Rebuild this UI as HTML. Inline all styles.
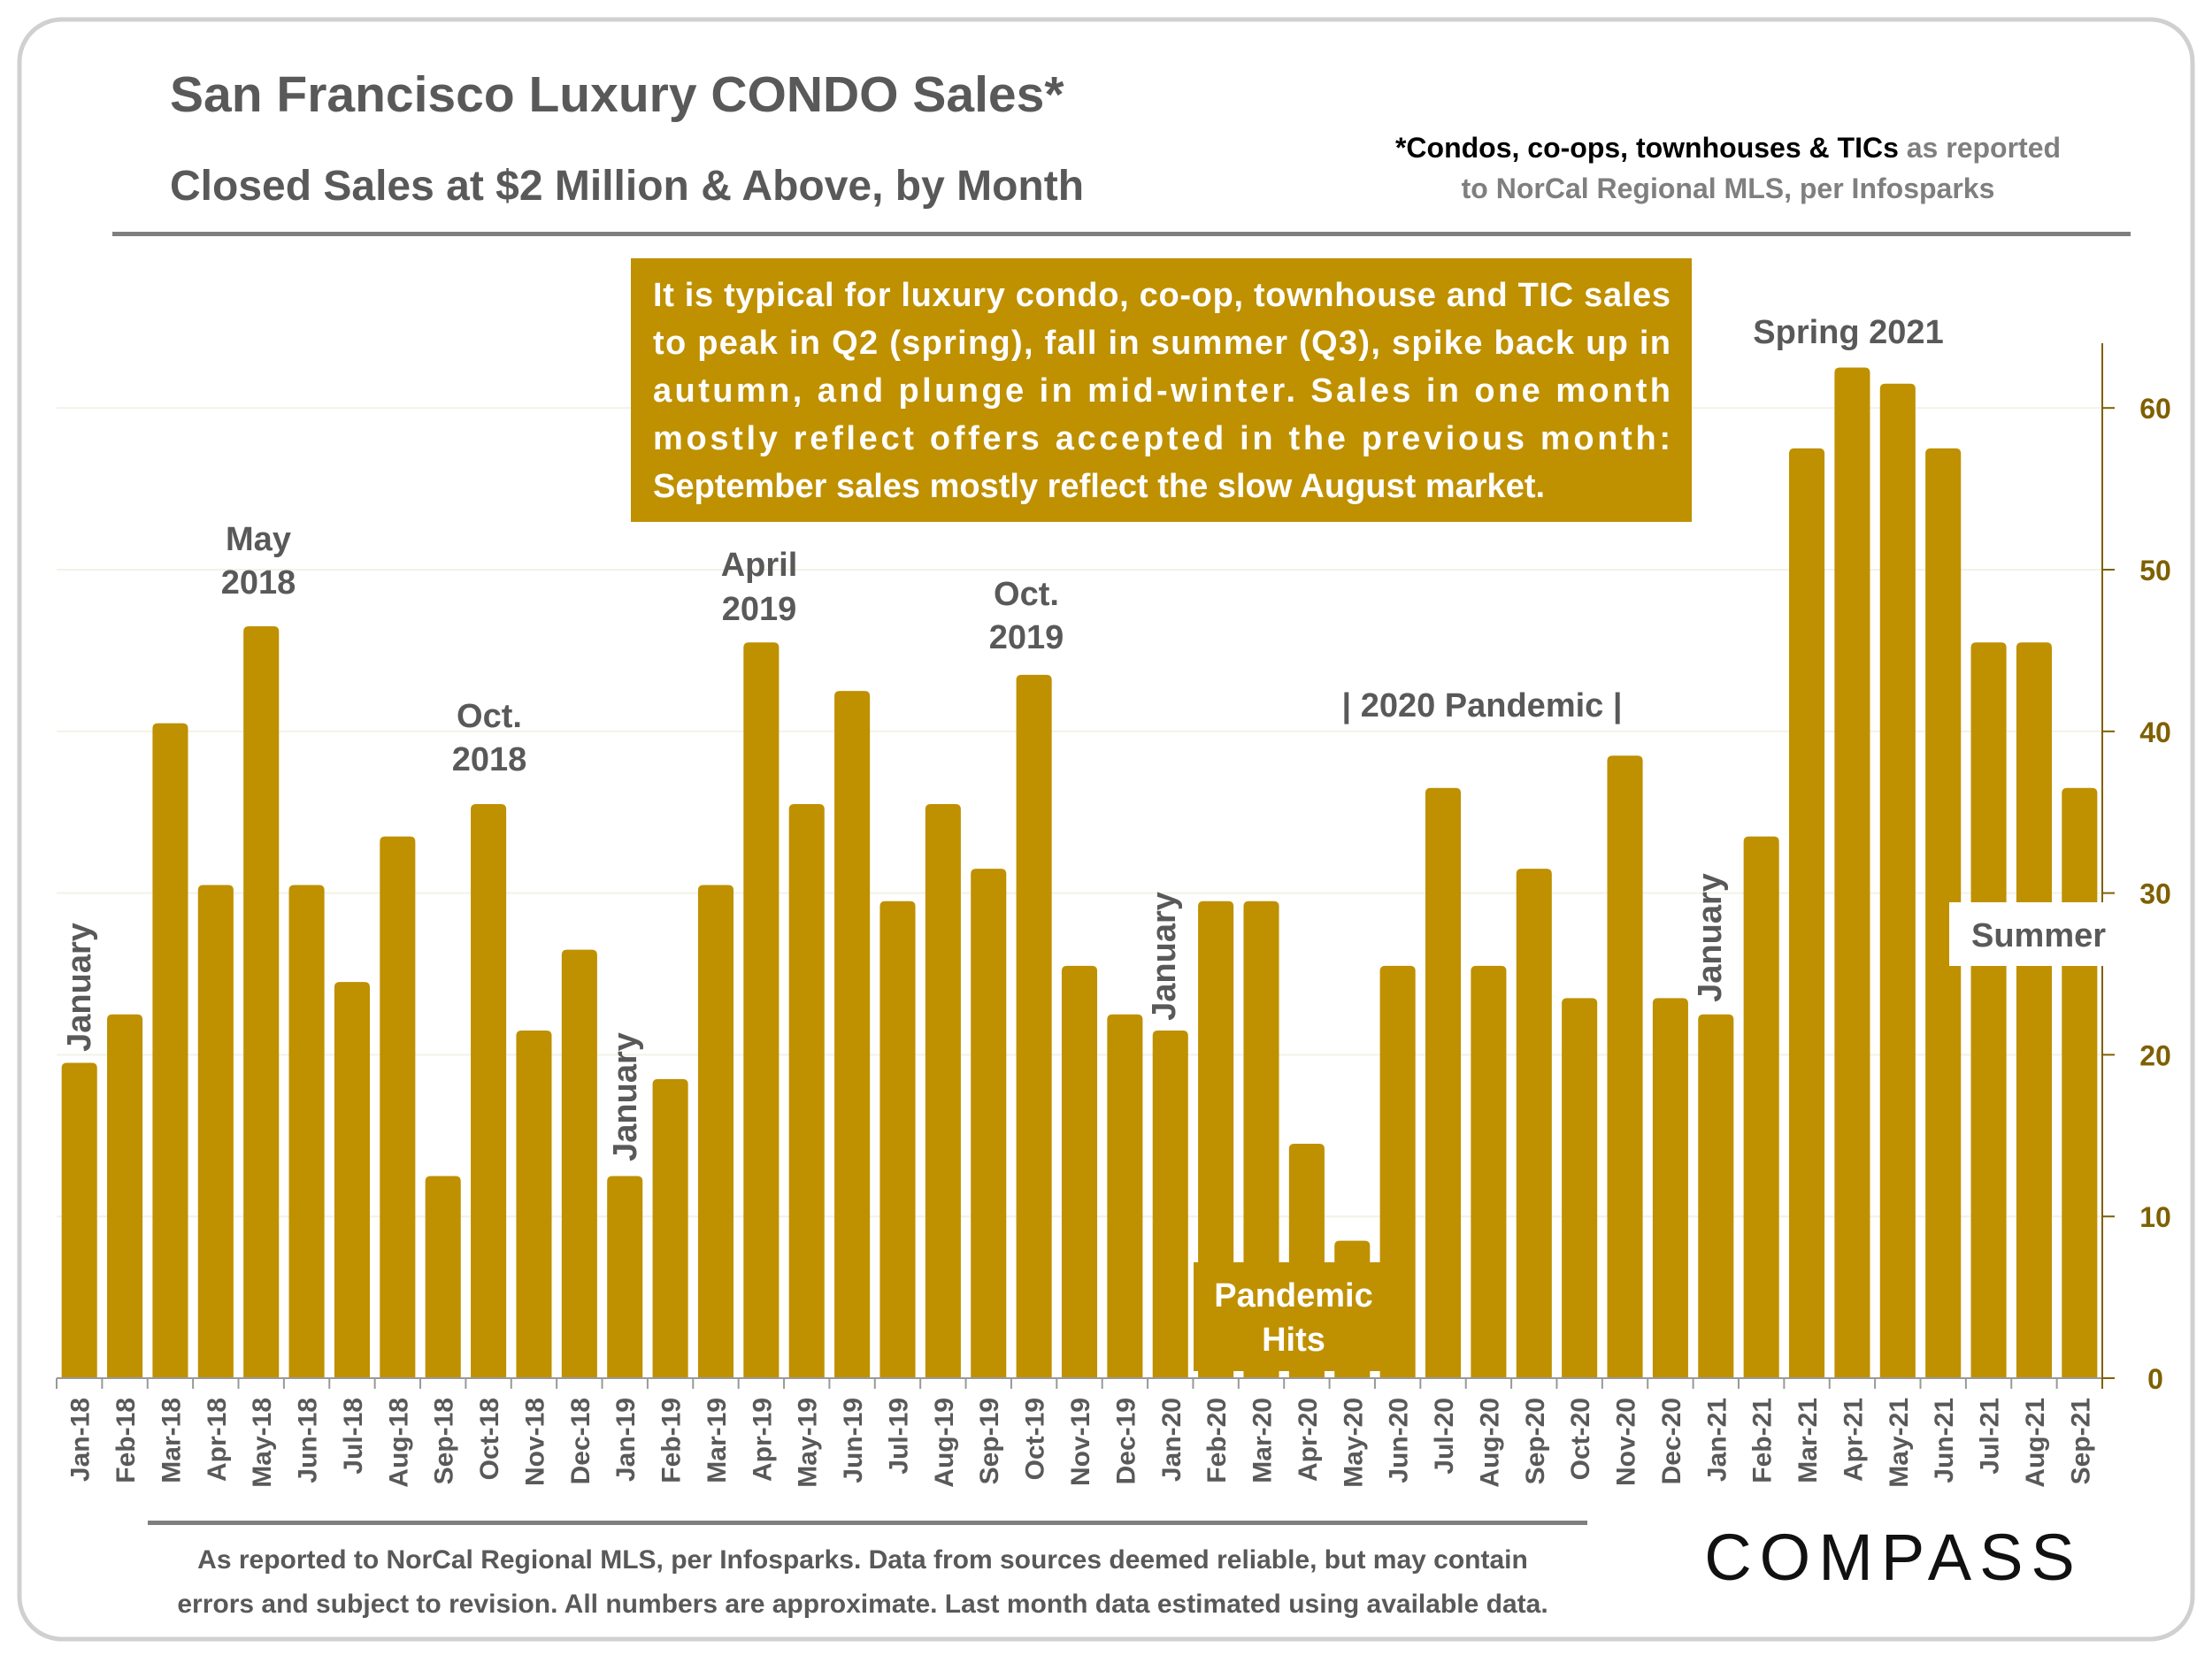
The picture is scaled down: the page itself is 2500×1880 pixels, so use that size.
<!DOCTYPE html>
<html><head><meta charset="utf-8"><style>
body{margin:0;width:2500px;height:1875px;background:#fff;font-family:"Liberation Sans",sans-serif;overflow:hidden}
</style></head><body>
<svg width="2500" height="1875" xmlns="http://www.w3.org/2000/svg" font-family="Liberation Sans, sans-serif">
<rect x="22" y="22" width="2456" height="1831" rx="48" fill="#fff" stroke="#d0d0d0" stroke-width="5"/>
<text x="192" y="126" font-size="57" font-weight="bold" fill="#595959">San Francisco Luxury CONDO Sales*</text>
<text x="192" y="226" font-size="48" font-weight="bold" fill="#595959">Closed Sales at $2 Million &amp; Above, by Month</text>
<text x="1953" y="178" font-size="32" font-weight="bold" fill="#7f7f7f" text-anchor="middle"><tspan fill="#000">*Condos, co-ops, townhouses &amp; TICs</tspan> as reported</text>
<text x="1953" y="224" font-size="32" font-weight="bold" fill="#7f7f7f" text-anchor="middle">to NorCal Regional MLS, per Infosparks</text>
<rect x="127" y="262" width="2281" height="5" fill="#7f7f7f"/>
<g id="grid"></g><g id="bars"></g><g id="axes"></g>
<g>
<rect x="713" y="292" width="1199" height="298" fill="#bf9000"/>
<text font-size="38" font-weight="bold" fill="#fff">
<tspan x="738" y="346" textLength="1150" lengthAdjust="spacing">It is typical for luxury condo, co-op, townhouse and TIC sales</tspan>
<tspan x="738" y="400" textLength="1150" lengthAdjust="spacing">to peak in Q2 (spring), fall in summer (Q3), spike back up in</tspan>
<tspan x="738" y="454" textLength="1150" lengthAdjust="spacing">autumn, and plunge in mid-winter. Sales in one month</tspan>
<tspan x="738" y="508" textLength="1150" lengthAdjust="spacing">mostly reflect offers accepted in the previous month:</tspan>
<tspan x="738" y="562">September sales mostly reflect the slow August market.</tspan>
</text></g>
<g font-size="38" font-weight="bold" fill="#595959" text-anchor="middle">
<text x="292" y="622"><tspan x="292">May</tspan><tspan x="292" dy="49">2018</tspan></text>
<text x="553" y="822"><tspan x="553">Oct.</tspan><tspan x="553" dy="49">2018</tspan></text>
<text x="858" y="651"><tspan x="858">April</tspan><tspan x="858" dy="50">2019</tspan></text>
<text x="1160" y="684"><tspan x="1160">Oct.</tspan><tspan x="1160" dy="49">2019</tspan></text>
<text x="1675" y="810">| 2020 Pandemic |</text>
<text x="2089" y="388">Spring 2021</text>
<text transform="translate(102,1116) rotate(-90)">January</text>
<text transform="translate(719,1240) rotate(-90)">January</text>
<text transform="translate(1328,1081) rotate(-90)">January</text>
<text transform="translate(1945,1060) rotate(-90)">January</text>
</g>
<g><rect x="2203" y="1020" width="176" height="72" fill="#fff"/><text x="2304" y="1070" font-size="38" font-weight="bold" fill="#595959" text-anchor="middle">Summer</text></g>
<g><rect x="1349" y="1427" width="246" height="123" fill="#bf9000"/>
<text x="1462" y="1477" font-size="38" font-weight="bold" fill="#fff" text-anchor="middle"><tspan x="1462">Pandemic</tspan><tspan x="1462" dy="50">Hits</tspan></text></g>
<rect x="167" y="1719" width="1627" height="5" fill="#7f7f7f"/>
<text x="975" y="1773" font-size="30" font-weight="bold" fill="#595959" text-anchor="middle">As reported to NorCal Regional MLS, per Infosparks. Data from sources deemed reliable, but may contain</text>
<text x="975" y="1823" font-size="30" font-weight="bold" fill="#595959" text-anchor="middle">errors and subject to revision. All numbers are approximate. Last month data estimated using available data.</text>
<text x="2140" y="1786" font-size="74" fill="#111" text-anchor="middle" letter-spacing="9">COMPASS</text>
</svg>
<script>
const categories=["Jan-18","Feb-18","Mar-18","Apr-18","May-18","Jun-18","Jul-18","Aug-18","Sep-18","Oct-18","Nov-18","Dec-18","Jan-19","Feb-19","Mar-19","Apr-19","May-19","Jun-19","Jul-19","Aug-19","Sep-19","Oct-19","Nov-19","Dec-19","Jan-20","Feb-20","Mar-20","Apr-20","May-20","Jun-20","Jul-20","Aug-20","Sep-20","Oct-20","Nov-20","Dec-20","Jan-21","Feb-21","Mar-21","Apr-21","May-21","Jun-21","Jul-21","Aug-21","Sep-21"];
const sales=[19,22,40,30,46,30,24,33,12,35,21,26,12,18,30,45,35,42,29,35,31,43,25,22,21,29,29,14,8,25,36,25,31,23,38,23,22,33,57,62,61,57,45,45,36];
const yTicks=[0,10,20,30,40,50,60];
const NS="http://www.w3.org/2000/svg";
const X0=64,X1=2376,Y0=1558,YPER=18.28;
const slot=(X1-X0)/categories.length;
const xc=i=>X0+slot*(i+0.5);
const y=v=>Y0-v*YPER;
function mk(t,a,p){const e=document.createElementNS(NS,t);for(const k in a)e.setAttribute(k,a[k]);p.appendChild(e);return e;}
const grid=document.getElementById('grid'),bars=document.getElementById('bars'),axes=document.getElementById('axes');
yTicks.forEach(v=>{
 if(v>0){const g=mk('line',{x1:X0,x2:X1,y1:y(v),y2:y(v),stroke:'#f2f2e6','stroke-width':2},grid);
 
 }
 const t=mk('line',{x1:X1,x2:X1+14,y1:y(v),y2:y(v),stroke:'#7f6000','stroke-width':2},axes);
 
 
 const l=mk('text',{x:X1+60,y:y(v)+12,'font-size':32,'font-weight':'bold',fill:'#7f6000','text-anchor':'middle'},axes);
 l.textContent=v;
 
 
});
const bw=slot*0.78;
sales.forEach((v,i)=>{
 const r=mk('path',{d:`M${xc(i)-bw/2},${Y0} V${y(v+0.5)+6} Q${xc(i)-bw/2},${y(v+0.5)} ${xc(i)-bw/2+6},${y(v+0.5)} H${xc(i)+bw/2-6} Q${xc(i)+bw/2},${y(v+0.5)} ${xc(i)+bw/2},${y(v+0.5)+6} V${Y0} Z`,fill:'#bf9000'},bars);
 
 
 const tk=mk('line',{x1:X0+slot*i,x2:X0+slot*i,y1:Y0,y2:Y0+12,stroke:'#999','stroke-width':2},axes);
 
 
 const t=mk('text',{transform:`translate(${xc(i)+11},${Y0+22}) rotate(-90)`,'font-size':30,'font-weight':'bold',fill:'#595959','text-anchor':'end'},axes);
 t.textContent=categories[i];
 
 
});
const xa=mk('line',{x1:X0,x2:X1,y1:Y0,y2:Y0,stroke:'#999','stroke-width':2},axes);


const ya=mk('line',{x1:X1,x2:X1,y1:388,y2:Y0+12,stroke:'#7f6000','stroke-width':2},axes);


</script>
</body></html>
